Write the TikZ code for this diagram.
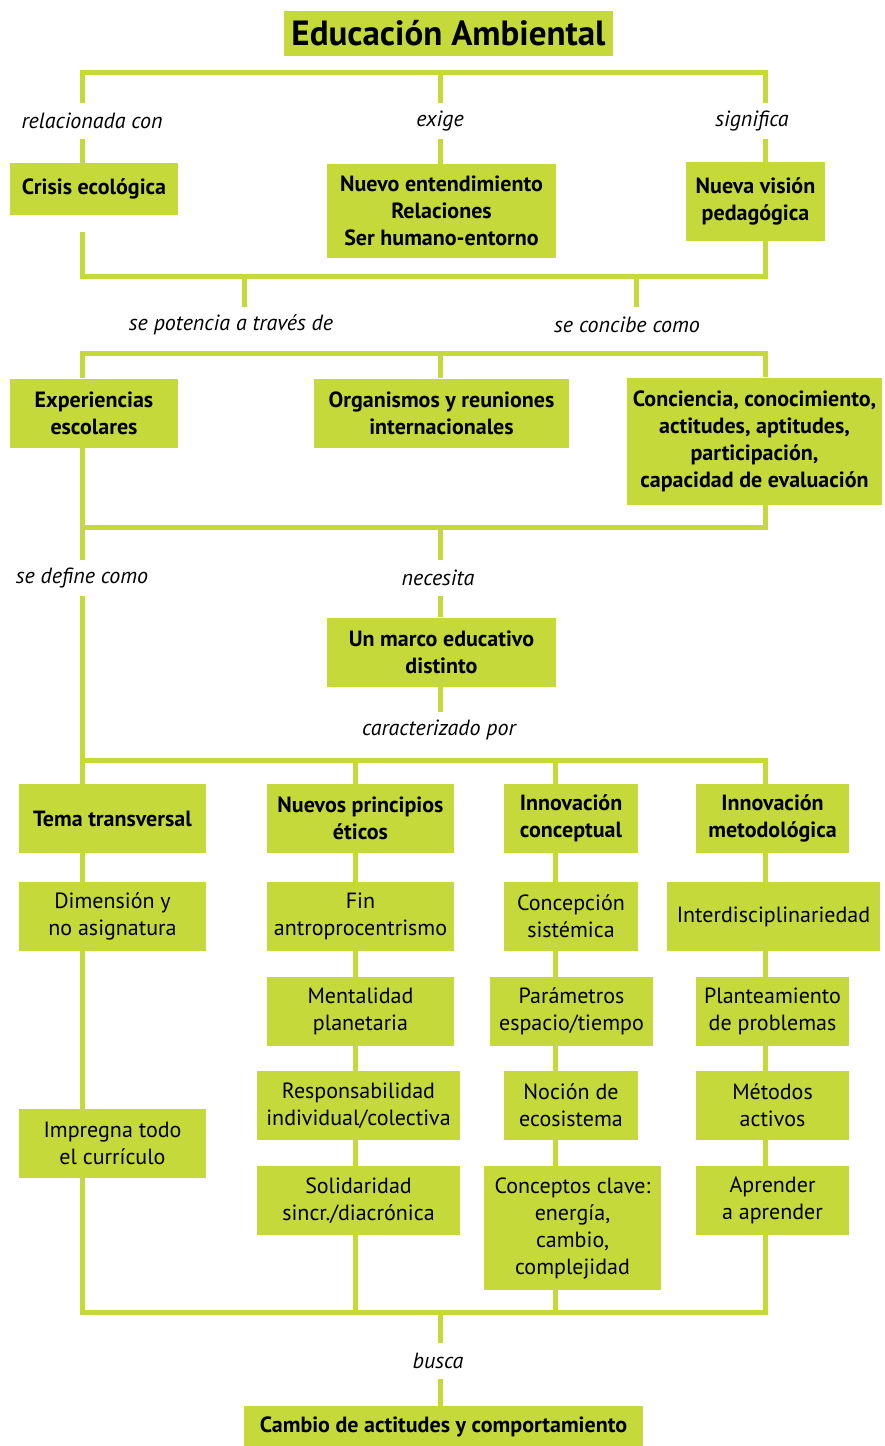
\documentclass[tikz,border=0pt]{standalone}
\usepackage{fontspec}
\setmainfont{PT Sans}
\usepackage{tikz}
\usetikzlibrary{
  backgrounds  % ramas detrás de las cajas
}
\definecolor{verdelima}{HTML}{C5D93A}
\tikzset{
  caja/.style={
    fill=verdelima,
    inner sep=0pt,
    align=center,
    font=\fontsize{22}{27}\selectfont
  },
  caja bold/.style={
    caja,
    font=\fontsize{22}{27}\selectfont\bfseries
  },
  enlace/.style={
    inner sep=0pt,
    minimum height=36pt,
    font=\fontsize{22}{27}\selectfont\itshape
  },
  rama/.style={
    draw=verdelima,
    line width=5pt,
    line join=miter
  }
}

\begin{document}
\begin{tikzpicture}[x=1pt, y=-1pt]
  \useasboundingbox (0,0) rectangle (884,1446);

  % 1. columnas y barras de las ramas
  \coordinate (c1) at (82,0);
  \coordinate (c2) at (355,0);
  \coordinate (c3) at (555,0);
  \coordinate (c4) at (765,0);
  \coordinate (cm) at (440,0);
  \coordinate (r1) at (0,72);
  \coordinate (r2) at (0,276);
  \coordinate (r3) at (0,353);
  \coordinate (r4) at (0,527);
  \coordinate (r5) at (0,760);
  \coordinate (r6) at (0,1312);

  % 2. cajas
  \node[caja bold, minimum width=329pt, minimum height=45pt, font=\fontsize{35}{38}\selectfont\bfseries] (titulo) at (448.5,33.5) {Educación Ambiental};

  \node[caja bold, minimum width=168pt, minimum height=52pt] (crisis) at (94,189) {Crisis ecológica};
  \node[caja bold, minimum width=229pt, minimum height=94pt] (nuevo) at (441.5,211) {Nuevo entendimiento\\Relaciones\\Ser humano-entorno};
  \node[caja bold, minimum width=139pt, minimum height=79pt] (vision) at (755.5,201.5) {Nueva visión\\pedagógica};

  \node[caja bold, minimum width=168pt, minimum height=69pt] (exper) at (94,413) {Experiencias\\escolares};
  \node[caja bold, minimum width=255pt, minimum height=69pt] (organ) at (441.5,413) {Organismos y reuniones\\internacionales};
  \node[caja bold, minimum width=255pt, minimum height=127pt] (concien) at (754.5,441) {Conciencia, conocimiento,\\actitudes, aptitudes,\\participación,\\capacidad de evaluación};

  \node[caja bold, minimum width=229pt, minimum height=69pt] (marco) at (441.5,652) {Un marco educativo\\distinto};

  \node[caja bold, minimum width=187pt, minimum height=69pt] (tema) at (112.5,818.5) {Tema transversal};
  \node[caja bold, minimum width=187pt, minimum height=69pt] (eticos) at (360.5,818.5) {Nuevos principios\\éticos};
  \node[caja bold, minimum width=134pt, minimum height=69pt] (iconc) at (571,818.5) {Innovación\\conceptual};
  \node[caja bold, minimum width=153pt, minimum height=69pt] (imet) at (772.5,818.5) {Innovación\\metodológica};

  \node[caja, minimum width=187pt, minimum height=69pt] (dimen) at (112.5,916.5) {Dimensión y\\no asignatura};
  \node[caja, minimum width=187pt, minimum height=69pt] (fin) at (360.5,916.5) {Fin\\antroprocentrismo};
  \node[caja, minimum width=134pt, minimum height=69pt] (sistem) at (571,916.5) {Concepción\\sistémica};
  \node[caja, minimum width=213pt, minimum height=69pt] (inter) at (773.5,916.5) {Interdisciplinariedad};

  \node[caja, minimum width=187pt, minimum height=69pt] (mental) at (360.5,1011.5) {Mentalidad\\planetaria};
  \node[caja, minimum width=163pt, minimum height=69pt] (param) at (571.5,1011.5) {Parámetros\\espacio/tiempo};
  \node[caja, minimum width=153pt, minimum height=69pt] (plant) at (772.5,1011.5) {Planteamiento\\de problemas};

  \node[caja, minimum width=203pt, minimum height=69pt] (respon) at (358.5,1105.5) {Responsabilidad\\individual/colectiva};
  \node[caja, minimum width=134pt, minimum height=69pt] (nocion) at (571,1105.5) {Noción de\\ecosistema};
  \node[caja, minimum width=153pt, minimum height=69pt] (metodos) at (772.5,1105.5) {Métodos\\activos};
  \node[caja, minimum width=187pt, minimum height=69pt] (impreg) at (112.5,1143.5) {Impregna todo\\el currículo};

  \node[caja, minimum width=203pt, minimum height=69pt] (solid) at (358.5,1200.5) {Solidaridad\\sincr./diacrónica};
  \node[caja, minimum width=177pt, minimum height=124pt] (clave) at (572.5,1228) {Conceptos clave:\\energía,\\cambio,\\complejidad};
  \node[caja, minimum width=153pt, minimum height=69pt] (aprend) at (772.5,1200.5) {Aprender\\a aprender};

  \node[caja bold, minimum width=399pt, minimum height=41pt] (cambio) at (443.5,1426.5) {Cambio de actitudes y comportamiento};

  % 3. textos de enlace
  \node[enlace] (relac) at (92,121) {relacionada con};
  \node[enlace] (exige) at (440,121) {exige};
  \node[enlace] (signif) at (752,121) {significa};
  \node[enlace] (poten) at (231,325) {se potencia a través de};
  \node[enlace] (concibe) at (627,325) {se concibe como};
  \node[enlace] (define) at (82,578) {se define como};
  \node[enlace] (necesita) at (438,578) {necesita};
  \node[enlace] (caract) at (439,730) {caracterizado por};
  \node[enlace] (busca) at (438,1361) {busca};

  % 4. ramas (por debajo de las cajas)
  \begin{pgfonlayer}{background}
    % Educación Ambiental -> primera fila
    \draw[rama] (relac.north -| c1) -- (c1 |- r1) -- (c4 |- r1) -- (signif.north -| c4);
    \draw[rama] (cm |- r1) -- (exige.north -| cm);
    \draw[rama] (relac.south -| c1) -- (crisis.north -| c1);
    \draw[rama] (exige.south -| cm) -- (nuevo.north -| cm);
    \draw[rama] (signif.south -| c4) -- (vision.north -| c4);
    % primera fila -> segunda fila
    \draw[rama] (82,232) -- (c1 |- r2) -- (c4 |- r2) -- (vision.south -| c4);
    \draw[rama] (poten.north -| 244,0) -- (244,276);
    \draw[rama] (concibe.north -| 636,0) -- (636,276);
    \draw[rama] (exper.north -| c1) -- (c1 |- r3) -- (c4 |- r3) -- (concien.north -| c4);
    \draw[rama] (cm |- r3) -- (organ.north -| cm);
    % segunda fila -> marco educativo
    \draw[rama] (exper.south -| c1) -- (c1 |- r4) -- (c4 |- r4) -- (concien.south -| c4);
    \draw[rama] (c1 |- r4) -- (define.north -| c1);
    \draw[rama] (cm |- r4) -- (necesita.north -| cm);
    \draw[rama] (necesita.south -| cm) -- (marco.north -| cm);
    \draw[rama] (marco.south -| cm) -- (caract.north -| cm);
    % cuatro columnas
    \draw[rama] (define.south -| c1) -- (c1 |- r6) -- (c4 |- r6) -- (c4 |- r5) -- (c1 |- r5);
    \draw[rama] (c2 |- r5) -- (c2 |- r6);
    \draw[rama] (c3 |- r5) -- (c3 |- r6);
    % hacia el cambio
    \draw[rama] (cm |- r6) -- (busca.north -| cm);
    \draw[rama] (busca.south -| cm) -- (cambio.north -| cm);
  \end{pgfonlayer}

\end{tikzpicture}
\end{document}
